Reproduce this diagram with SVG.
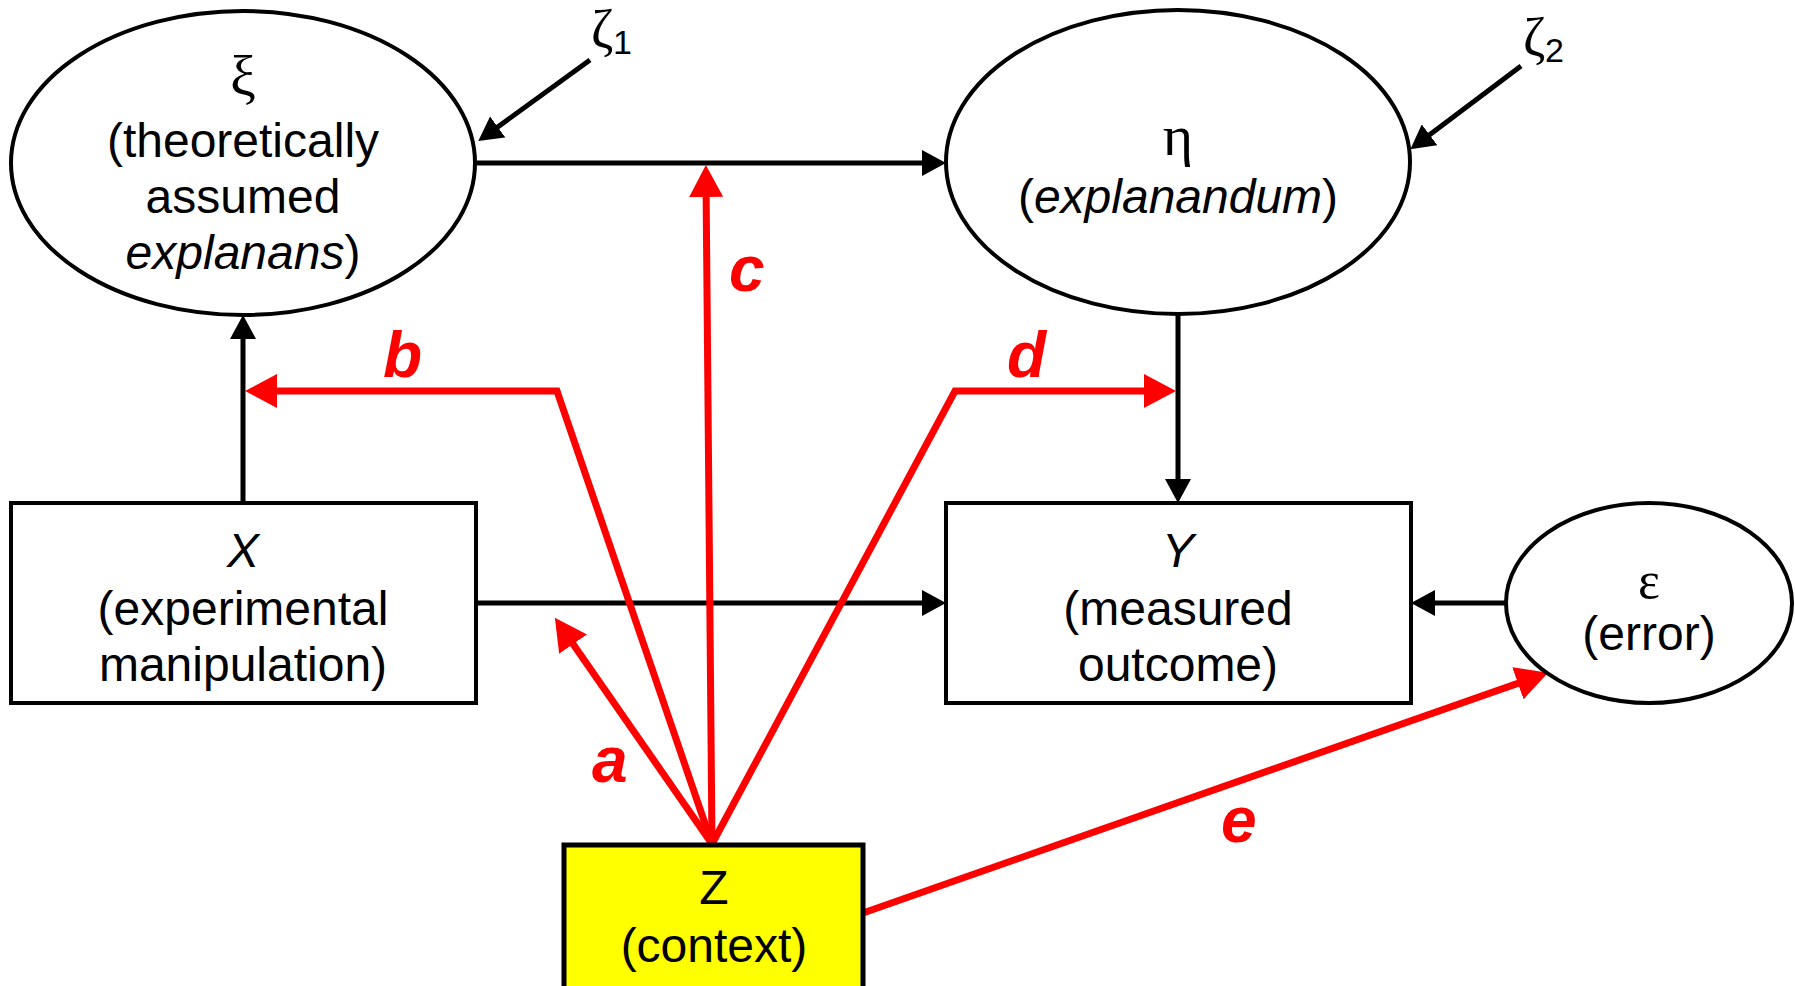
<svg xmlns="http://www.w3.org/2000/svg" width="1795" height="986" viewBox="0 0 1795 986">
<style>
.node{fill:#fff;stroke:#000;stroke-width:4}
.t{font-family:"Liberation Sans",Arial,sans-serif;font-size:48px;fill:#000;text-anchor:middle}
.g{font-family:"Liberation Serif","Times New Roman",serif;fill:#000;text-anchor:middle}
.blk{stroke:#000;stroke-width:5;fill:none}
.red{stroke:#f00;stroke-width:7;fill:none;stroke-linejoin:miter}
.lab{font-family:"Liberation Sans",Arial,sans-serif;font-size:64px;font-weight:bold;font-style:italic;fill:#f00}
.zl{font-family:"Liberation Serif","Times New Roman",serif;font-size:54px;fill:#000}
.sub{font-family:"Liberation Sans",Arial,sans-serif;font-size:34px;fill:#000}
</style>
<defs>
<marker id="ab" markerUnits="userSpaceOnUse" markerWidth="24" markerHeight="26" refX="12" refY="13" orient="auto"><path d="M0,0 L24,13 L0,26 z" fill="#000"/></marker>
<marker id="ar" markerUnits="userSpaceOnUse" markerWidth="32" markerHeight="34" refX="16" refY="17" orient="auto"><path d="M0,0 L32,17 L0,34 z" fill="#f00"/></marker>
</defs>
<rect width="1795" height="986" fill="#fff"/>

<g id="connectors">
<line class="blk" x1="476" y1="163" x2="934" y2="163" marker-end="url(#ab)"/>
<line class="blk" x1="243" y1="503" x2="243" y2="327" marker-end="url(#ab)"/>
<line class="blk" x1="1178" y1="315" x2="1178" y2="491" marker-end="url(#ab)"/>
<line class="blk" x1="476" y1="603" x2="934" y2="603" marker-end="url(#ab)"/>
<line class="blk" x1="1505" y1="603" x2="1423" y2="603" marker-end="url(#ab)"/>
<line class="blk" x1="590" y1="60" x2="488" y2="134" marker-end="url(#ab)"/>
<line class="blk" x1="1521" y1="66" x2="1420" y2="142" marker-end="url(#ab)"/>
<polyline class="red" points="712,844 557,391 261,391" marker-end="url(#ar)"/>
<polyline class="red" points="712,844 955,391 1160,391" marker-end="url(#ar)"/>
<line class="red" x1="712" y1="844" x2="706" y2="181" marker-end="url(#ar)"/>
<line class="red" x1="712" y1="844" x2="564" y2="631" marker-end="url(#ar)"/>
<line class="red" x1="863" y1="913" x2="1533" y2="678" marker-end="url(#ar)"/>
<text class="lab" x="383" y="377">b</text>
<text class="lab" x="729" y="291">c</text>
<text class="lab" x="592" y="782">a</text>
<text class="lab" x="1007" y="377">d</text>
<text class="lab" x="1221" y="842">e</text>
</g>

<g id="zeta1">
<text class="zl" x="591" y="48">ζ</text>
<text class="sub" x="613" y="54">1</text>
</g>
<g id="zeta2">
<text class="zl" x="1523" y="56">ζ</text>
<text class="sub" x="1545" y="62">2</text>
</g>

<g id="xi">
<ellipse class="node" cx="243" cy="163" rx="232" ry="152"/>
<text class="g" x="243" y="95" font-size="58">ξ</text>
<text class="t" x="243" y="157">(theoretically</text>
<text class="t" x="243" y="213">assumed</text>
<text class="t" x="243" y="269"><tspan font-style="italic">explanans</tspan>)</text>
</g>

<g id="eta">
<ellipse class="node" cx="1178" cy="162" rx="232" ry="152"/>
<text class="g" x="1178" y="155" font-size="58">η</text>
<text class="t" x="1178" y="213">(<tspan font-style="italic">explanandum</tspan>)</text>
</g>

<g id="X">
<rect class="node" x="11" y="503" width="465" height="200"/>
<text class="t" x="243" y="567" font-style="italic">X</text>
<text class="t" x="243" y="625">(experimental</text>
<text class="t" x="243" y="681">manipulation)</text>
</g>

<g id="Y">
<rect class="node" x="946" y="503" width="465" height="200"/>
<text class="t" x="1178" y="567" font-style="italic">Y</text>
<text class="t" x="1178" y="625">(measured</text>
<text class="t" x="1178" y="681">outcome)</text>
</g>

<g id="epsilon">
<ellipse class="node" cx="1649" cy="603" rx="143" ry="100"/>
<text class="g" x="1649" y="598" font-size="52">ε</text>
<text class="t" x="1649" y="650" font-size="41">(error)</text>
</g>

<g id="Z">
<rect x="564" y="845" width="299" height="150" fill="#ff0" stroke="#000" stroke-width="5"/>
<text class="t" x="714" y="904">Z</text>
<text class="t" x="714" y="962">(context)</text>
</g>
</svg>
